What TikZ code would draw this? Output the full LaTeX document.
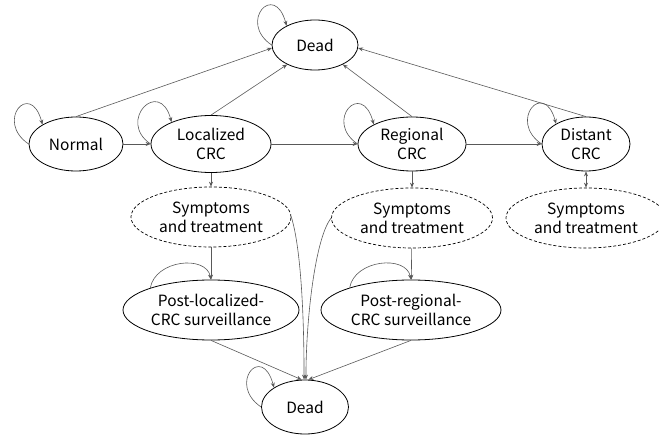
\documentclass[tikz,border=0pt]{standalone}
\usepackage{fontspec}
\setmainfont{Noto Sans CJK SC}
\usetikzlibrary{shapes.geometric,arrows.meta}
\begin{document}
\begin{tikzpicture}[x=1bp,y=-1bp,
 st/.style={ellipse,draw=black,line width=0.8bp,inner sep=0pt,align=center,font=\fontsize{15.5bp}{19bp}\selectfont},
 sym/.style={st,dash pattern=on 3bp off 2bp,line width=0.7bp},
 conn/.style={draw=black!65,line width=0.6bp,-{Stealth[length=5bp,width=4bp]}},
 both/.style={draw=black!65,line width=0.6bp,{Stealth[length=5bp,width=4bp]}-{Stealth[length=5bp,width=4bp]}}]
\useasboundingbox (0,0) rectangle (659,435);
\node[st,minimum width=86bp,minimum height=50bp] (dt) at (315,45) {Dead};
\node[st,minimum width=94bp,minimum height=54bp] (nm) at (76,144) {Normal};
\node[st,minimum width=120bp,minimum height=57bp] (lc) at (211,144) {Localized\\CRC};
\node[st,minimum width=108bp,minimum height=54bp] (rg) at (412,144) {Regional\\CRC};
\node[st,minimum width=88bp,minimum height=54bp] (ds) at (586,144) {Distant\\CRC};
\node[sym,minimum width=160bp,minimum height=60bp] (s1) at (211,217) {Symptoms\\and treatment};
\node[sym,minimum width=161bp,minimum height=60bp] (s2) at (412,218) {Symptoms\\and treatment};
\node[sym,minimum width=160bp,minimum height=60bp] (s3) at (586,218) {Symptoms\\and treatment};
\node[st,minimum width=176bp,minimum height=60bp] (pl) at (211,310) {Post-localized-\\CRC surveillance};
\node[st,minimum width=180bp,minimum height=60bp] (pr) at (411,310) {Post-regional-\\CRC surveillance};
\node[st,minimum width=87bp,minimum height=54bp] (db) at (305,407) {Dead};
% self loops
\draw[conn] (dt.west) .. controls +(-34,-23) and +(-12,-45) .. (dt.146);
\draw[conn] (nm.west) .. controls +(-34,-23) and +(-12,-45) .. (nm.150);
\draw[conn] (lc.west) .. controls +(-34,-23) and +(-12,-45) .. (lc.151);
\draw[conn] (rg.west) .. controls +(-34,-23) and +(-12,-45) .. (rg.153);
\draw[conn] (ds.west) .. controls +(-34,-23) and +(-12,-45) .. (ds.146);
\draw[conn] (db.west) .. controls +(-34,-23) and +(-12,-45) .. (db.148);
\draw[conn] (pl.160) .. controls +(5,-28) and +(-5,-25) .. (pl.north);
\draw[conn] (pr.160) .. controls +(5,-28) and +(-5,-25) .. (pr.north);
% to top dead
\draw[conn] (nm.north) -- (dt.184);
\draw[conn] (lc.north) -- (dt.215);
\draw[conn] (rg.north) -- (dt.-35);
\draw[conn] (ds.north) -- (dt.-4);
% horizontal
\draw[conn] (nm) -- (lc);
\draw[conn] (lc) -- (rg);
\draw[conn] (rg) -- (ds);
% vertical
\draw[conn] (lc) -- (s1);
\draw[conn] (rg) -- (s2);
\draw[both] (ds) -- (s3);
\draw[conn] (s1) -- (pl);
\draw[conn] (s2) -- (pr);
% to bottom dead
\draw[conn] (s1.east) .. controls +(10,33) and +(0,-60) .. (db.92);
\draw[conn] (s2.west) .. controls +(-16,20) and +(0,-60) .. (db.88);
\draw[conn] (pl.south) -- (db.97);
\draw[conn] (pr.south) -- (db.83);
\end{tikzpicture}
\end{document}
